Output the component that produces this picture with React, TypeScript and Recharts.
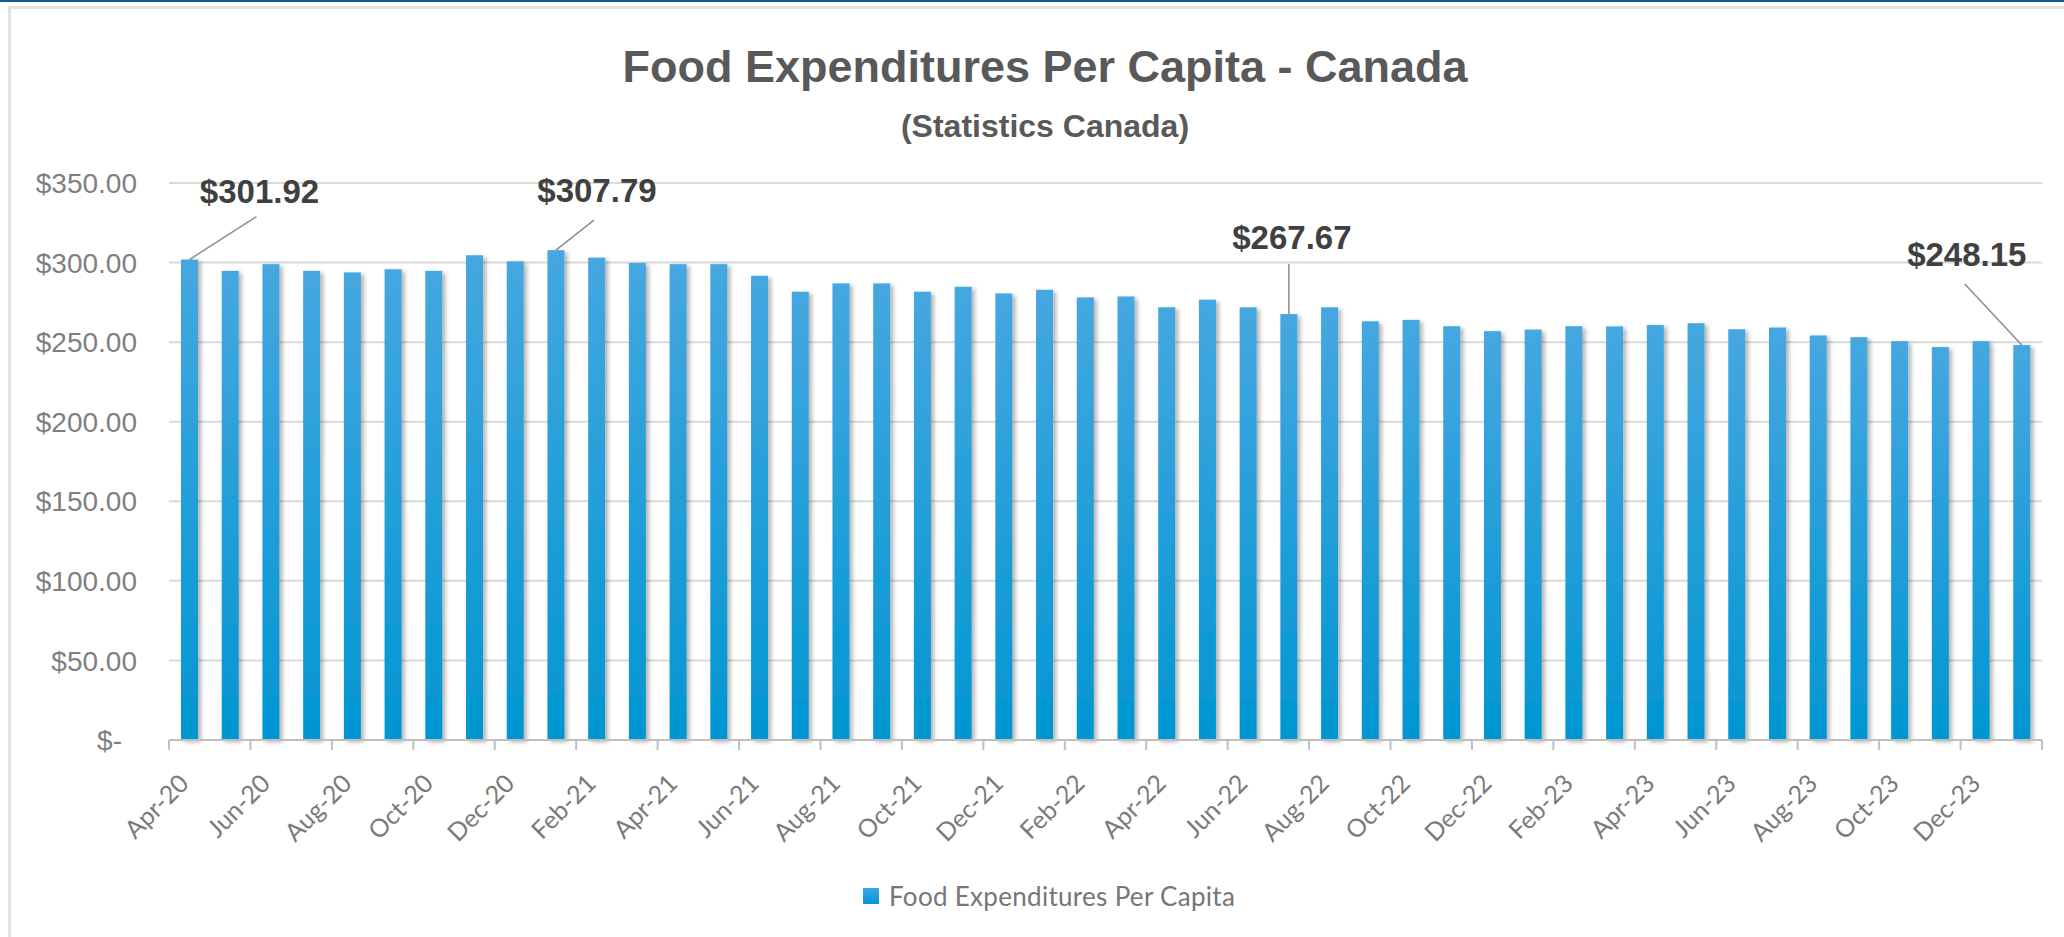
import { Bar, BarChart, CartesianGrid, LabelList, Legend, XAxis, YAxis } from "recharts";

// Monthly food expenditures per capita, Apr-20 .. Jan-24 (Statistics Canada)
const months = [
  "Apr-20", "May-20", "Jun-20", "Jul-20", "Aug-20", "Sep-20", "Oct-20", "Nov-20", "Dec-20",
  "Jan-21", "Feb-21", "Mar-21", "Apr-21", "May-21", "Jun-21", "Jul-21", "Aug-21", "Sep-21",
  "Oct-21", "Nov-21", "Dec-21", "Jan-22", "Feb-22", "Mar-22", "Apr-22", "May-22", "Jun-22",
  "Jul-22", "Aug-22", "Sep-22", "Oct-22", "Nov-22", "Dec-22", "Jan-23", "Feb-23", "Mar-23",
  "Apr-23", "May-23", "Jun-23", "Jul-23", "Aug-23", "Sep-23", "Oct-23", "Nov-23", "Dec-23",
  "Jan-24",
];

const spending = [
  301.92, 294.8, 299.0, 294.8, 293.8, 295.8, 294.8, 304.6, 300.8,
  307.79, 303.1, 299.8, 299.0, 299.0, 291.7, 281.7, 286.9, 286.9,
  281.7, 284.8, 280.6, 282.9, 278.1, 278.7, 271.9, 276.7, 271.9,
  267.67, 271.9, 263.1, 264.0, 260.0, 256.9, 257.9, 260.0, 259.9,
  260.8, 261.9, 258.1, 259.2, 254.2, 253.1, 250.6, 246.9, 250.6,
  248.15,
];

const yTicks = [0, 50, 100, 150, 200, 250, 300, 350];

// bars that carry a callout label
const calloutIdx = [0, 9, 27, 45];

const data = months.map((m, i) => ({ month: m, value: spending[i] }));

const W = 2064;
const H = 937;
const PLOT_LEFT = 169;
const PLOT_RIGHT = 2042;
const BAND = (PLOT_RIGHT - PLOT_LEFT) / months.length;

// label offsets relative to the bar top (text anchor / leader line end)
const calloutStyle: Record<number, { tx: number; ty: number; lx: number; ly: number }> = {
  0: { tx: 70, ty: -57, lx: 67, ly: -43 },
  9: { tx: 41, ty: -48, lx: 38, ly: -30 },
  27: { tx: 3, ty: -65, lx: 0, ly: -50 },
  45: { tx: -55, ty: -79, lx: -57, ly: -61 },
};

const money = (v: number) => "$" + v.toFixed(2);

const MonthTick = (props: any) => {
  const { x, y, payload } = props;
  const left = x - BAND / 2;
  const isLast = payload.index === months.length - 2;
  const ax = x + 1;
  const ay = y + 45;
  return (
    <g>
      <line x1={left} y1={y} x2={left} y2={y + 10} stroke="#bfbfbf" strokeWidth={2} />
      {isLast && (
        <line x1={x + BAND * 1.5} y1={y} x2={x + BAND * 1.5} y2={y + 10} stroke="#bfbfbf" strokeWidth={2} />
      )}
      <text
        x={ax}
        y={ay}
        transform={`rotate(-45, ${ax}, ${ay})`}
        textAnchor="end"
        fill="#7a7a7a"
        fontSize={25}
        fontFamily="Lato, sans-serif"
      >
        {payload.value}
      </text>
    </g>
  );
};

const DollarTick = (props: any) => {
  const { x, y, payload } = props;
  const zero = payload.value === 0;
  return (
    <text
      x={x}
      y={y}
      dx={zero ? -15 : 0}
      dy="0.36em"
      textAnchor="end"
      fill="#7f7f7f"
      fontSize={28}
      fontFamily="'Liberation Sans', Arial, sans-serif"
    >
      {zero ? "$-" : money(payload.value)}
    </text>
  );
};

const Callout = (props: any) => {
  const { x, y, width, index, value } = props;
  if (!calloutIdx.includes(index)) return null;
  const s = calloutStyle[index];
  const bx = x + width / 2;
  return (
    <g>
      <line x1={bx} y1={y} x2={bx + s.lx} y2={y + s.ly} stroke="#8c8c8c" strokeWidth={1.5} />
      <text
        x={bx + s.tx}
        y={y + s.ty}
        textAnchor="middle"
        fill="#404040"
        fontSize={33}
        fontWeight="bold"
        fontFamily="'Liberation Sans', Arial, sans-serif"
      >
        {money(value)}
      </text>
    </g>
  );
};

const BarShape = (props: any) => (
  <rect
    x={props.x}
    y={props.y}
    width={props.width}
    height={props.height}
    fill="url(#barGrad)"
    filter="url(#barShadow)"
  />
);

const LegendBox = () => (
  <div style={{ display: "flex", alignItems: "center", height: 40, marginLeft: 863 }}>
    <span
      style={{
        width: 16,
        height: 16,
        background: "linear-gradient(#3fa6e0, #0096d3)",
        marginRight: 10,
      }}
    />
    <span style={{ fontFamily: "Lato, sans-serif", fontSize: 26, letterSpacing: 0.3, color: "#767676" }}>
      Food Expenditures Per Capita
    </span>
  </div>
);

export default function App() {
  return (
    <div style={{ position: "absolute", left: 0, top: 0, width: W, height: H, overflow: "hidden", background: "#fff" }}>
      <svg width={0} height={0} style={{ position: "absolute" }}>
        <defs>
          <linearGradient id="barGrad" x1="0" y1="0" x2="0" y2="1">
            <stop offset="0%" stopColor="#46a7e0" />
            <stop offset="100%" stopColor="#0096d2" />
          </linearGradient>
          <filter id="barShadow" x="-50%" y="-10%" width="220%" height="125%">
            <feDropShadow dx={3} dy={2} stdDeviation={2} floodColor="#000" floodOpacity={0.3} />
          </filter>
        </defs>
      </svg>
      <div style={{ position: "absolute", left: 0, top: 0, width: W, height: 2, background: "#1b5a88" }} />
      <div
        style={{
          position: "absolute",
          left: 8,
          top: 6,
          width: W + 40,
          height: H + 40,
          border: "3px solid #e2e2e2",
          boxSizing: "border-box",
        }}
      />
      <div
        style={{
          position: "absolute",
          left: 0,
          width: 2090,
          top: 44,
          textAlign: "center",
          fontFamily: "'Liberation Sans', Arial, sans-serif",
          fontWeight: "bold",
          fontSize: 45,
          lineHeight: "45px",
          color: "#595959",
        }}
      >
        Food Expenditures Per Capita - Canada
      </div>
      <div
        style={{
          position: "absolute",
          left: 0,
          width: 2090,
          top: 110,
          textAlign: "center",
          fontFamily: "'Liberation Sans', Arial, sans-serif",
          fontWeight: "bold",
          fontSize: 32,
          lineHeight: "32px",
          color: "#595959",
        }}
      >
        (Statistics Canada)
      </div>
      <div style={{ position: "absolute", left: 0, top: 0 }}>
        <BarChart
          width={W}
          height={H}
          data={data}
          margin={{ top: 183, right: W - PLOT_RIGHT, left: 0, bottom: 21 }}
          barSize={17}
        >
          <CartesianGrid vertical={false} stroke="#d9d9d9" strokeWidth={2} />
          <XAxis
            dataKey="month"
            interval={1}
            height={136}
            tickSize={0}
            tickMargin={0}
            tickLine={false}
            axisLine={{ stroke: "#bfbfbf", strokeWidth: 2 }}
            tick={<MonthTick />}
          />
          <YAxis
            width={PLOT_LEFT}
            domain={[0, 350]}
            ticks={yTicks}
            tickSize={0}
            tickMargin={32}
            tickLine={false}
            axisLine={false}
            tick={<DollarTick />}
          />
          <Legend verticalAlign="bottom" height={40} content={<LegendBox />} />
          <Bar dataKey="value" name="Food Expenditures Per Capita" shape={<BarShape />} isAnimationActive={false}>
            <LabelList dataKey="value" content={<Callout />} />
          </Bar>
        </BarChart>
      </div>
    </div>
  );
}
